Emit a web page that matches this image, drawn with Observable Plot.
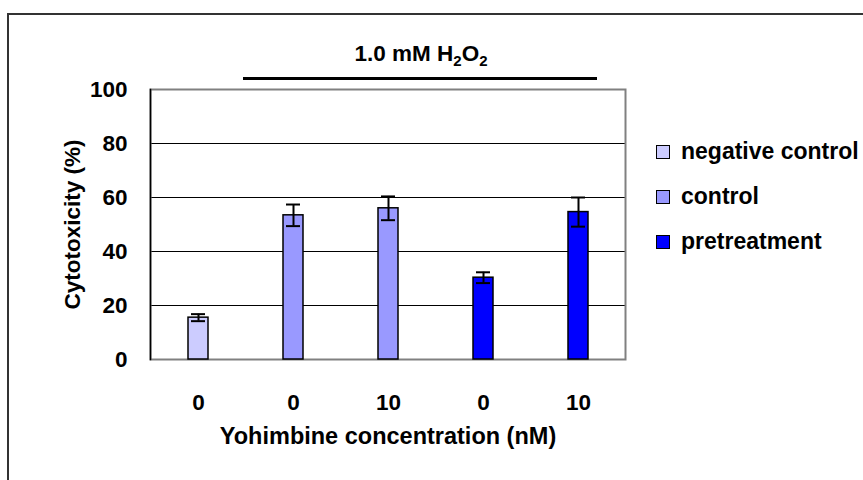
<!DOCTYPE html>
<html>
<head>
<meta charset="utf-8">
<script src="https://cdn.jsdelivr.net/npm/d3@7"></script>
<script src="https://cdn.jsdelivr.net/npm/@observablehq/plot@0.6"></script>
<style>
  html, body { margin: 0; padding: 0; background: #fff; overflow: hidden; }
  body { font-family: "Liberation Sans", Arial, sans-serif; font-weight: bold; color: #000; }
  #wrap { position: relative; width: 863px; height: 480px; }
  #outer { position: absolute; left: 7px; top: 13px; width: 900px; height: 520px; border: 2px solid #333; box-sizing: border-box; }
  #chart { position: absolute; left: 0; top: 0; }
  #title { position: absolute; left: 321px; width: 200px; top: 43px; text-align: center; font-size: 22.5px; line-height: 22px; white-space: nowrap; }
  #title sub { font-size: 15px; vertical-align: -5px; line-height: 0; }
  #bracket { position: absolute; left: 243px; top: 77px; width: 354px; height: 3px; background: #000; }
  #legend { position: absolute; left: 656px; top: 140px; font-size: 23px; }
  .item { display: flex; align-items: center; height: 23px; margin-bottom: 22px; white-space: nowrap; }
  .sw { width: 14px; height: 14px; border: 1.5px solid #000; box-sizing: border-box; margin-right: 11px; }
</style>
</head>
<body>
<div id="wrap">
  <div id="outer"></div>
  <div id="chart"></div>
  <div id="title">1.0 mM H<sub>2</sub>O<sub>2</sub></div>
  <div id="bracket"></div>
  <div id="legend"></div>
</div>
<script>
// ---- data ----
const groups = ["negative control", "control", "control", "pretreatment", "pretreatment"];
const concLabels = ["0", "0", "10", "0", "10"];
const values = [15.5, 53.4, 56.0, 30.3, 54.6];
const errors = [1.3, 4.0, 4.4, 2.0, 5.4];
const series = ["negative control", "control", "pretreatment"];
const colors = ["#CCCCFF", "#9999FF", "#0000FF"];
const yTicks = [0, 20, 40, 60, 80, 100];
const yLabel = "Cytotoxicity (%)";
const xLabel = "Yohimbine concentration (nM)";

const data = values.map((v, i) => ({id: i, group: groups[i], value: v, err: errors[i]}));

const chart = Plot.plot({
  width: 863,
  height: 480,
  marginLeft: 150,
  marginRight: 238,
  marginTop: 89,
  marginBottom: 121,
  style: {fontFamily: '"Liberation Sans", Arial, sans-serif', fontWeight: "bold", fontSize: "22px", background: "transparent", overflow: "visible"},
  x: {type: "band", domain: data.map(d => d.id), paddingInner: 0.79, paddingOuter: 0.395, axis: null},
  y: {domain: [0, 100], axis: null},
  color: {domain: series, range: colors},
  marks: [
    Plot.ruleY(yTicks.filter(t => t > 0 && t < 100), {stroke: "#000", strokeWidth: 1}),
    Plot.frame({stroke: "#808080", strokeWidth: 2}),
    Plot.frame({anchor: "left", stroke: "#000", strokeWidth: 1.5}),
    Plot.barY(data, {x: "id", y: "value", fill: "group", stroke: "#000", strokeWidth: 1.5}),
    Plot.ruleX(data, {x: "id", y1: d => d.value - d.err, y2: d => d.value + d.err, stroke: "#000", strokeWidth: 2}),
    Plot.tickY(data, {x: "id", y: d => d.value + d.err, insetLeft: 3, insetRight: 3, stroke: "#000", strokeWidth: 2}),
    Plot.tickY(data, {x: "id", y: d => d.value - d.err, insetLeft: 3, insetRight: 3, stroke: "#000", strokeWidth: 2}),
    Plot.axisY({ticks: yTicks, tickSize: 0, tickPadding: 23, label: null, fontSize: 22.5}),
    Plot.axisX({tickSize: 0, tickPadding: 35, tickFormat: i => concLabels[i], label: null, fontSize: 22.5}),
    Plot.text([yLabel], {frameAnchor: "left", dx: -78, rotate: -90, textAnchor: "middle", fontSize: 22.5, text: d => d}),
    Plot.text([xLabel], {frameAnchor: "bottom", dy: 84, fontSize: 23.5, text: d => d})
  ]
});
document.getElementById("chart").appendChild(chart);

const legend = document.getElementById("legend");
series.forEach((s, i) => {
  const row = document.createElement("div");
  row.className = "item";
  const sw = document.createElement("div");
  sw.className = "sw";
  sw.style.background = colors[i];
  const label = document.createElement("span");
  label.textContent = s;
  row.appendChild(sw);
  row.appendChild(label);
  legend.appendChild(row);
});
</script>
</body>
</html>
